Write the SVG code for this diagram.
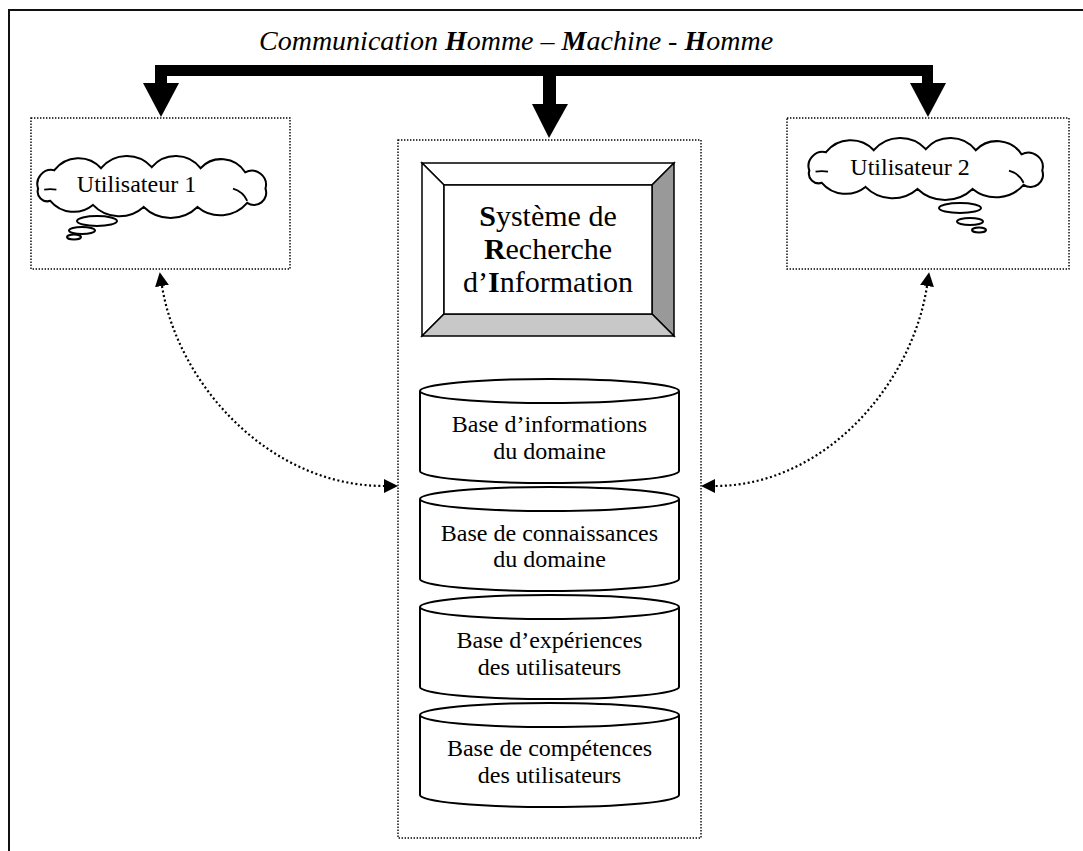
<svg xmlns="http://www.w3.org/2000/svg" width="1083" height="851" viewBox="0 0 1083 851">
<style>
  .t { font-family: "Liberation Serif", "Times New Roman", serif; fill: #000; }
  .box { fill: none; stroke: #000; stroke-width: 1.4; stroke-dasharray: 1.4 1.6; }
  .cyl { fill: #fff; stroke: #000; stroke-width: 2; }
  .cloud { fill: #fff; stroke: #000; stroke-width: 2; }
  .crease { fill: none; stroke: #000; stroke-width: 1.8; }
  .bubble { fill: #fff; stroke: #000; stroke-width: 2; }
  .curve { fill: none; stroke: #000; stroke-width: 2.2; stroke-dasharray: 2 2.6; marker-start: url(#ah); marker-end: url(#ah); }
  .bev { stroke: #000; stroke-width: 1.5; }
</style>
<defs>
  <marker id="ah" viewBox="0 0 14 14" refX="0" refY="7" markerWidth="14" markerHeight="14" markerUnits="userSpaceOnUse" orient="auto-start-reverse">
    <path d="M0,0 L14,7 L0,14 Z" fill="#000" stroke="none"/>
  </marker>
  <path id="cloudShape" d="M8,30 A13.8,13.8 0 0 1 24,12 A30,30 0 0 1 70,10 A33,33 0 0 1 120,9 A31,31 0 0 1 168,10 A28,28 0 0 1 212,14 A14,14 0 0 1 232,30 A12,12 0 0 1 214,44 A35,35 0 0 1 165,48 A38,38 0 0 1 112,48 A36,36 0 0 1 62,46 A30,30 0 0 1 20,42 A9.6,9.6 0 0 1 8,30 Z"/>
</defs>
<rect width="1083" height="851" fill="#fff"/>
<rect x="9" y="10" width="1100" height="900" fill="none" stroke="#111" stroke-width="2"/>

<text class="t" x="259" y="50" font-size="28" font-style="italic">Communication <tspan font-weight="bold">H</tspan>omme – <tspan font-weight="bold">M</tspan>achine - <tspan font-weight="bold">H</tspan>omme</text>

<g id="connectors">
  <path d="M155,65 H933 V83 H922 V76 H556 V104 H543 V76 H167 V83 H155 Z" fill="#000"/>
  <path d="M143,83 L179,83 L161,117 Z" fill="#000"/>
  <path d="M532,104 L568,104 L549,138 Z" fill="#000"/>
  <path d="M910,83 L946,83 L928,117 Z" fill="#000"/>
  <path class="curve" d="M162,286 C178,385 270,486 384,486"/>
  <path class="curve" d="M927,286 C912,385 824,486 715,486"/>
</g>

<g id="user1">
  <rect class="box" x="31" y="118" width="259" height="151"/>
  <g transform="translate(30,158) scale(1.015,1.02)">
    <use href="#cloudShape" class="cloud"/>
    <path class="crease" d="M14,31 Q20,30 26,31"/>
    <path class="crease" d="M200,30 Q210,33 214,42"/>
  </g>
  <ellipse class="bubble" cx="97" cy="221" rx="20" ry="5"/>
  <ellipse class="bubble" cx="82" cy="230.5" rx="13" ry="3.5"/>
  <ellipse class="bubble" cx="74" cy="237" rx="7" ry="2.5"/>
  <text class="t" x="136.5" y="192" font-size="24" text-anchor="middle">Utilisateur 1</text>
</g>

<g id="user2">
  <rect class="box" x="787" y="118" width="282" height="151"/>
  <g transform="translate(801,140) scale(1.04,1.02)">
    <use href="#cloudShape" class="cloud"/>
    <path class="crease" d="M14,31 Q20,30 26,31"/>
    <path class="crease" d="M200,30 Q210,33 214,42"/>
  </g>
  <ellipse class="bubble" cx="960" cy="208" rx="21" ry="5"/>
  <ellipse class="bubble" cx="970" cy="221.5" rx="13" ry="3.5"/>
  <ellipse class="bubble" cx="979" cy="230" rx="7" ry="2.5"/>
  <text class="t" x="910" y="175" font-size="24" text-anchor="middle">Utilisateur 2</text>
</g>

<g id="system">
  <rect class="box" x="398" y="140" width="303" height="698"/>
  <g id="sri">
    <polygon class="bev" points="422,163 674,163 652,185 444,185" fill="#fff"/>
    <polygon class="bev" points="422,163 444,185 444,314 422,336" fill="#fff"/>
    <polygon class="bev" points="674,163 674,336 652,314 652,185" fill="#999"/>
    <polygon class="bev" points="422,336 444,314 652,314 674,336" fill="#c8c8c8"/>
    <rect class="bev" x="444" y="185" width="208" height="129" fill="#fff"/>
    <text class="t" x="548" y="226" font-size="30" text-anchor="middle"><tspan font-weight="bold">S</tspan>ystème de</text>
    <text class="t" x="548" y="259" font-size="30" text-anchor="middle"><tspan font-weight="bold">R</tspan>echerche</text>
    <text class="t" x="548" y="292" font-size="30" text-anchor="middle">d’<tspan font-weight="bold">I</tspan>nformation</text>
  </g>
  <g id="db1">
    <path class="cyl" d="M420,391 V471 A129.5,12 0 0 0 679,471 V391"/>
    <ellipse class="cyl" cx="549.5" cy="391" rx="129.5" ry="12"/>
    <text class="t" x="549.5" y="432" font-size="24" text-anchor="middle">Base d’informations</text>
    <text class="t" x="549.5" y="459" font-size="24" text-anchor="middle">du domaine</text>
  </g>
  <g id="db2">
    <path class="cyl" d="M420,499 V579 A129.5,12 0 0 0 679,579 V499"/>
    <ellipse class="cyl" cx="549.5" cy="499" rx="129.5" ry="12"/>
    <text class="t" x="549.5" y="541" font-size="24" text-anchor="middle">Base de connaissances</text>
    <text class="t" x="549.5" y="567" font-size="24" text-anchor="middle">du domaine</text>
  </g>
  <g id="db3">
    <path class="cyl" d="M420,607 V687 A129.5,12 0 0 0 679,687 V607"/>
    <ellipse class="cyl" cx="549.5" cy="607" rx="129.5" ry="12"/>
    <text class="t" x="549.5" y="648" font-size="24" text-anchor="middle">Base d’expériences</text>
    <text class="t" x="549.5" y="675" font-size="24" text-anchor="middle">des utilisateurs</text>
  </g>
  <g id="db4">
    <path class="cyl" d="M420,715 V795 A129.5,12 0 0 0 679,795 V715"/>
    <ellipse class="cyl" cx="549.5" cy="715" rx="129.5" ry="12"/>
    <text class="t" x="549.5" y="756" font-size="24" text-anchor="middle">Base de compétences</text>
    <text class="t" x="549.5" y="783" font-size="24" text-anchor="middle">des utilisateurs</text>
  </g>
</g>
</svg>
